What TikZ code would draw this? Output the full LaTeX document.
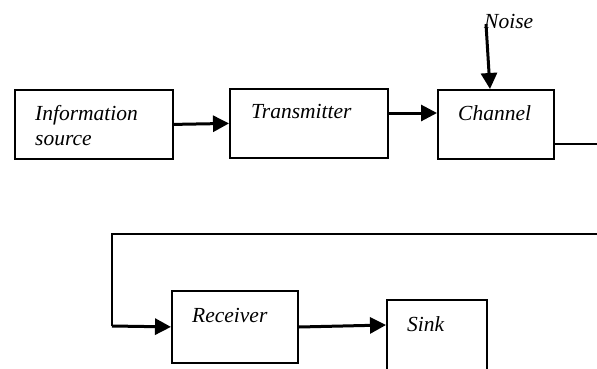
\documentclass[tikz,border=0pt]{standalone}
\usepackage{fontspec}
\setmainfont{Liberation Serif}
\usetikzlibrary{arrows.meta,calc}
\begin{document}
\begin{tikzpicture}[x=1pt,y=-1pt,
  block/.style={draw=black,line width=1.8pt,rectangle,anchor=north west,inner sep=0pt},
  caption/.style={anchor=base west,inner sep=0pt,font=\fontsize{21.5}{25}\selectfont\itshape,align=left},
  flow/.style={line width=3pt,-{Triangle[length=16pt,width=16pt]}},
  wire/.style={line width=1.6pt}]
\useasboundingbox (0,0) rectangle (597,368);
\clip (0,0) rectangle (597,368);
% blocks
\node[block,minimum width=158pt,minimum height=69pt] (src) at (14,89) {};
\node[block,minimum width=158pt,minimum height=69pt] (tx) at (229,88) {};
\node[block,minimum width=116pt,minimum height=69pt] (chan) at (437,89) {};
\node[block,minimum width=126pt,minimum height=72pt] (rcv) at (171,290) {};
\node[block,minimum width=100pt,minimum height=80pt] (sink) at (386,299) {};
% block captions (base anchor sits on the last line)
\node[caption] (srcT) at ($(src.north west)+(21,56)$) {Information\\source};
\node[caption] (txT) at ($(tx.north west)+(22,30)$) {Transmitter};
\node[caption] (chanT) at ($(chan.north west)+(21,31)$) {Channel};
\node[caption] (rcvT) at ($(rcv.north west)+(21,32)$) {Receiver};
\node[caption] (sinkT) at ($(sink.north west)+(21,32)$) {Sink};
\node[caption] (noise) at (484,28) {Noise};
% connectors
\coordinate (noiseTop) at (486,24);
\coordinate (chanOut) at (597,144);
\coordinate (backIn) at (597,234);
\coordinate (backCorner) at (112,234);
\coordinate (rcvCorner) at (112,326);
\draw[flow] (src.east) -- (tx.west);
\draw[flow] ($(tx.north east)+(0,25)$) -- ($(chan.north west)+(0,24)$);
\draw[flow] (noiseTop) -- ($(chan.north west)+(53,0)$);
\draw[wire] ($(chan.north east)+(0,55)$) -- (chanOut);
\draw[wire] (backIn) -- (backCorner) -- (rcvCorner);
\draw[flow] (rcvCorner) -- (rcv.west);
\draw[flow] ($(rcv.north east)+(0,37)$) -- ($(sink.north west)+(0,26)$);
\end{tikzpicture}
\end{document}
